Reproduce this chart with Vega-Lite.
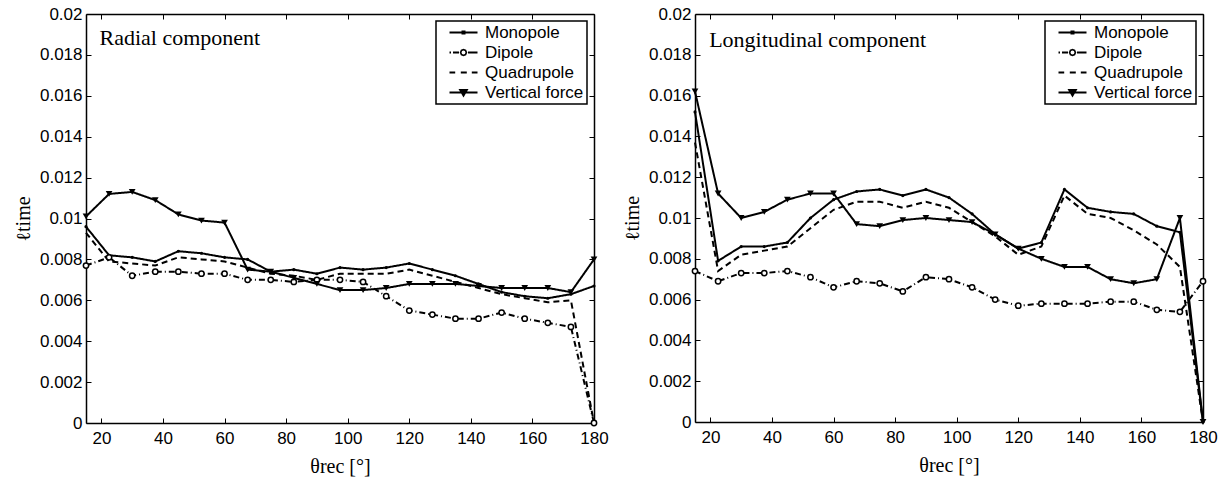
{
"$schema": "https://vega.github.io/schema/vega-lite/v6.json",
"background": "white",
"padding": {"left": 13, "top": 5, "right": 5, "bottom": 5},
"spacing": 101,
"bounds": "flush",
"resolve": {"scale": {"shape": "independent", "strokeDash": "independent"}, "legend": {"shape": "independent", "strokeDash": "independent"}},
"config": {
  "view": {"stroke": null},
  "font": "Liberation Sans",
  "axis": {"domainColor": "black", "domainWidth": 1.5, "tickColor": "black", "tickWidth": 1, "tickSize": -5, "labelFont": "Liberation Sans", "labelFontSize": 17, "labelColor": "black", "grid": false, "titleFont": "Liberation Serif", "titleFontSize": 20, "titleFontWeight": "normal", "titleColor": "black", "labelFlush": false, "labelBound": false, "labelOverlap": false},
  "legend": {"orient": "top-right", "offset": 7, "padding": 3, "strokeColor": "black", "strokeWidth": 1.5, "fillColor": "white", "cornerRadius": 0, "labelFont": "Liberation Sans", "labelFontSize": 17, "labelColor": "black", "rowPadding": 2, "symbolOffset": 7, "labelOffset": 22, "symbolStrokeWidth": 0, "symbolOpacity": 1, "symbolSize": 100}
},
"hconcat": [
{
  "width": 508, "height": 409,
  "data": {"values": [
    {"s":"Monopole","t":15,"v":0.0096},{"s":"Monopole","t":22.5,"v":0.0082},{"s":"Monopole","t":30,"v":0.0081},{"s":"Monopole","t":37.5,"v":0.0079},{"s":"Monopole","t":45,"v":0.0084},{"s":"Monopole","t":52.5,"v":0.0083},{"s":"Monopole","t":60,"v":0.0081},{"s":"Monopole","t":67.5,"v":0.0080},{"s":"Monopole","t":75,"v":0.0074},{"s":"Monopole","t":82.5,"v":0.0075},{"s":"Monopole","t":90,"v":0.0073},{"s":"Monopole","t":97.5,"v":0.0076},{"s":"Monopole","t":105,"v":0.0075},{"s":"Monopole","t":112.5,"v":0.0076},{"s":"Monopole","t":120,"v":0.0078},{"s":"Monopole","t":127.5,"v":0.0075},{"s":"Monopole","t":135,"v":0.0072},{"s":"Monopole","t":142.5,"v":0.0068},{"s":"Monopole","t":150,"v":0.0064},{"s":"Monopole","t":157.5,"v":0.0062},{"s":"Monopole","t":165,"v":0.0061},{"s":"Monopole","t":172.5,"v":0.0063},{"s":"Monopole","t":180,"v":0.0067},
    {"s":"Dipole","t":15,"v":0.0077},{"s":"Dipole","t":22.5,"v":0.0081},{"s":"Dipole","t":30,"v":0.0072},{"s":"Dipole","t":37.5,"v":0.0074},{"s":"Dipole","t":45,"v":0.0074},{"s":"Dipole","t":52.5,"v":0.0073},{"s":"Dipole","t":60,"v":0.0073},{"s":"Dipole","t":67.5,"v":0.0070},{"s":"Dipole","t":75,"v":0.0070},{"s":"Dipole","t":82.5,"v":0.0069},{"s":"Dipole","t":90,"v":0.0070},{"s":"Dipole","t":97.5,"v":0.0070},{"s":"Dipole","t":105,"v":0.0069},{"s":"Dipole","t":112.5,"v":0.0062},{"s":"Dipole","t":120,"v":0.0055},{"s":"Dipole","t":127.5,"v":0.0053},{"s":"Dipole","t":135,"v":0.0051},{"s":"Dipole","t":142.5,"v":0.0051},{"s":"Dipole","t":150,"v":0.0054},{"s":"Dipole","t":157.5,"v":0.0051},{"s":"Dipole","t":165,"v":0.0049},{"s":"Dipole","t":172.5,"v":0.0047},{"s":"Dipole","t":180,"v":0},
    {"s":"Quadrupole","t":15,"v":0.0093},{"s":"Quadrupole","t":22.5,"v":0.0079},{"s":"Quadrupole","t":30,"v":0.0078},{"s":"Quadrupole","t":37.5,"v":0.0077},{"s":"Quadrupole","t":45,"v":0.0081},{"s":"Quadrupole","t":52.5,"v":0.0080},{"s":"Quadrupole","t":60,"v":0.0079},{"s":"Quadrupole","t":67.5,"v":0.0076},{"s":"Quadrupole","t":75,"v":0.0073},{"s":"Quadrupole","t":82.5,"v":0.0072},{"s":"Quadrupole","t":90,"v":0.0070},{"s":"Quadrupole","t":97.5,"v":0.0073},{"s":"Quadrupole","t":105,"v":0.0073},{"s":"Quadrupole","t":112.5,"v":0.0073},{"s":"Quadrupole","t":120,"v":0.0075},{"s":"Quadrupole","t":127.5,"v":0.0072},{"s":"Quadrupole","t":135,"v":0.0069},{"s":"Quadrupole","t":142.5,"v":0.0066},{"s":"Quadrupole","t":150,"v":0.0063},{"s":"Quadrupole","t":157.5,"v":0.0061},{"s":"Quadrupole","t":165,"v":0.0059},{"s":"Quadrupole","t":172.5,"v":0.0060},{"s":"Quadrupole","t":180,"v":0},
    {"s":"Vertical force","t":15,"v":0.0101},{"s":"Vertical force","t":22.5,"v":0.0112},{"s":"Vertical force","t":30,"v":0.0113},{"s":"Vertical force","t":37.5,"v":0.0109},{"s":"Vertical force","t":45,"v":0.0102},{"s":"Vertical force","t":52.5,"v":0.0099},{"s":"Vertical force","t":60,"v":0.0098},{"s":"Vertical force","t":67.5,"v":0.0075},{"s":"Vertical force","t":75,"v":0.0074},{"s":"Vertical force","t":82.5,"v":0.0071},{"s":"Vertical force","t":90,"v":0.0068},{"s":"Vertical force","t":97.5,"v":0.0065},{"s":"Vertical force","t":105,"v":0.0065},{"s":"Vertical force","t":112.5,"v":0.0066},{"s":"Vertical force","t":120,"v":0.0068},{"s":"Vertical force","t":127.5,"v":0.0068},{"s":"Vertical force","t":135,"v":0.0068},{"s":"Vertical force","t":142.5,"v":0.0067},{"s":"Vertical force","t":150,"v":0.0066},{"s":"Vertical force","t":157.5,"v":0.0066},{"s":"Vertical force","t":165,"v":0.0066},{"s":"Vertical force","t":172.5,"v":0.0064},{"s":"Vertical force","t":180,"v":0.0080}
  ]},
  "layer": [
    {"mark": {"type": "line", "stroke": "black", "strokeWidth": 2},
     "encoding": {
       "x": {"field": "t", "type": "quantitative", "scale": {"domain": [15, 180], "nice": false, "zero": false}, "axis": {"orient": "bottom", "values": [20,40,60,80,100,120,140,160,180], "title": "θrec [°]", "labelPadding": 12, "titlePadding": 10}},
       "y": {"field": "v", "type": "quantitative", "scale": {"domain": [0, 0.02], "nice": false}, "axis": {"orient": "left", "values": [0,0.002,0.004,0.006,0.008,0.01,0.012,0.014,0.016,0.018,0.02], "format": "~g", "title": "ℓtime", "labelPadding": 9, "titlePadding": 6}},
       "strokeDash": {"field": "s", "type": "nominal", "scale": {"domain": ["Vertical force","Quadrupole","Dipole","Monopole"], "range": [[1,0],[6,4],[6,3,1,3],[1,0]]}, "legend": null}
     }},
    {"transform": [{"filter": "datum.s == 'Monopole'"}],
     "mark": {"type": "point", "shape": "circle", "filled": true, "fill": "black", "size": 10, "opacity": 1},
     "encoding": {"x": {"field": "t", "type": "quantitative", "axis": null}, "y": {"field": "v", "type": "quantitative", "axis": null}}},
    {"transform": [{"filter": "datum.s == 'Dipole'"}],
     "mark": {"type": "point", "shape": "circle", "filled": true, "fill": "white", "stroke": "black", "strokeWidth": 1.5, "size": 28, "opacity": 1},
     "encoding": {"x": {"field": "t", "type": "quantitative", "axis": null}, "y": {"field": "v", "type": "quantitative", "axis": null}}},
    {"transform": [{"filter": "datum.s == 'Vertical force'"}],
     "mark": {"type": "point", "shape": "triangle-down", "filled": true, "fill": "black", "size": 45, "opacity": 1},
     "encoding": {"x": {"field": "t", "type": "quantitative", "axis": null}, "y": {"field": "v", "type": "quantitative", "axis": null}}},
    {"data": {"values": [{}]},
     "mark": {"type": "text", "font": "Liberation Serif", "fontSize": 22, "align": "left", "baseline": "alphabetic", "color": "black"},
     "encoding": {
       "x": {"datum": 19.4, "type": "quantitative", "axis": {"orient": "top", "labels": false, "values": [20,40,60,80,100,120,140,160,180], "title": null}},
       "y": {"datum": 0.0185, "type": "quantitative", "axis": {"orient": "right", "labels": false, "values": [0,0.002,0.004,0.006,0.008,0.01,0.012,0.014,0.016,0.018,0.02], "title": null}},
       "text": {"value": "Radial component"}
     }},
    {"data": {"values": [{"s":"Monopole","t":150,"v":0.0175},{"s":"Dipole","t":150,"v":0.0175},{"s":"Quadrupole","t":150,"v":0.0175},{"s":"Vertical force","t":150,"v":0.0175}]},
     "mark": {"type": "point", "filled": true, "fill": "black", "strokeWidth": 0, "size": 100, "opacity": 1},
     "encoding": {
       "x": {"field": "t", "type": "quantitative", "axis": null}, "y": {"field": "v", "type": "quantitative", "axis": null},
       "shape": {"field": "s", "type": "nominal", "scale": {"domain": ["Monopole","Dipole","Quadrupole","Vertical force"], "range": ["M-1,-0.2H4.6V0.2H-1ZM1.4,-0.4H2.2V0.4H1.4Z", "M-1,-0.2H-0.7V0.2H-1ZM-0.3,-0.2H0.9V0.2H-0.3ZM2.7,-0.2H4.6V0.2H2.7ZM2.55,0L2.33,0.53L1.8,0.75L1.27,0.53L1.05,0L1.27,-0.53L1.8,-0.75L2.33,-0.53ZM2.2,0L2.08,-0.28L1.8,-0.4L1.52,-0.28L1.4,0L1.52,0.28L1.8,0.4L2.08,0.28Z", "M-1,-0.2H0.14V0.2H-1ZM1.26,-0.2H2.46V0.2H1.26ZM3.46,-0.2H4.6V0.2H3.46Z", "M-1,-0.2H4.6V0.2H-1ZM0.8,-0.7H2.8L1.8,1Z"]}, "legend": {"title": null, "symbolOpacity": 1}}
     }}
  ],
  "resolve": {"axis": {"x": "independent", "y": "independent"}}
},
{
  "width": 508, "height": 408,
  "data": {"values": [
    {"s":"Monopole","t":15,"v":0.0152},{"s":"Monopole","t":22.5,"v":0.0079},{"s":"Monopole","t":30,"v":0.0086},{"s":"Monopole","t":37.5,"v":0.0086},{"s":"Monopole","t":45,"v":0.0088},{"s":"Monopole","t":52.5,"v":0.0100},{"s":"Monopole","t":60,"v":0.0109},{"s":"Monopole","t":67.5,"v":0.0113},{"s":"Monopole","t":75,"v":0.0114},{"s":"Monopole","t":82.5,"v":0.0111},{"s":"Monopole","t":90,"v":0.0114},{"s":"Monopole","t":97.5,"v":0.0110},{"s":"Monopole","t":105,"v":0.0102},{"s":"Monopole","t":112.5,"v":0.0092},{"s":"Monopole","t":120,"v":0.0085},{"s":"Monopole","t":127.5,"v":0.0088},{"s":"Monopole","t":135,"v":0.0114},{"s":"Monopole","t":142.5,"v":0.0105},{"s":"Monopole","t":150,"v":0.0103},{"s":"Monopole","t":157.5,"v":0.0102},{"s":"Monopole","t":165,"v":0.0096},{"s":"Monopole","t":172.5,"v":0.0093},{"s":"Monopole","t":180,"v":0},
    {"s":"Dipole","t":15,"v":0.0074},{"s":"Dipole","t":22.5,"v":0.0069},{"s":"Dipole","t":30,"v":0.0073},{"s":"Dipole","t":37.5,"v":0.0073},{"s":"Dipole","t":45,"v":0.0074},{"s":"Dipole","t":52.5,"v":0.0071},{"s":"Dipole","t":60,"v":0.0066},{"s":"Dipole","t":67.5,"v":0.0069},{"s":"Dipole","t":75,"v":0.0068},{"s":"Dipole","t":82.5,"v":0.0064},{"s":"Dipole","t":90,"v":0.0071},{"s":"Dipole","t":97.5,"v":0.0070},{"s":"Dipole","t":105,"v":0.0066},{"s":"Dipole","t":112.5,"v":0.0060},{"s":"Dipole","t":120,"v":0.0057},{"s":"Dipole","t":127.5,"v":0.0058},{"s":"Dipole","t":135,"v":0.0058},{"s":"Dipole","t":142.5,"v":0.0058},{"s":"Dipole","t":150,"v":0.0059},{"s":"Dipole","t":157.5,"v":0.0059},{"s":"Dipole","t":165,"v":0.0055},{"s":"Dipole","t":172.5,"v":0.0054},{"s":"Dipole","t":180,"v":0.0069},
    {"s":"Quadrupole","t":15,"v":0.0137},{"s":"Quadrupole","t":22.5,"v":0.0074},{"s":"Quadrupole","t":30,"v":0.0082},{"s":"Quadrupole","t":37.5,"v":0.0084},{"s":"Quadrupole","t":45,"v":0.0086},{"s":"Quadrupole","t":52.5,"v":0.0095},{"s":"Quadrupole","t":60,"v":0.0104},{"s":"Quadrupole","t":67.5,"v":0.0108},{"s":"Quadrupole","t":75,"v":0.0108},{"s":"Quadrupole","t":82.5,"v":0.0105},{"s":"Quadrupole","t":90,"v":0.0108},{"s":"Quadrupole","t":97.5,"v":0.0105},{"s":"Quadrupole","t":105,"v":0.0098},{"s":"Quadrupole","t":112.5,"v":0.0091},{"s":"Quadrupole","t":120,"v":0.0082},{"s":"Quadrupole","t":127.5,"v":0.0086},{"s":"Quadrupole","t":135,"v":0.0111},{"s":"Quadrupole","t":142.5,"v":0.0102},{"s":"Quadrupole","t":150,"v":0.0100},{"s":"Quadrupole","t":157.5,"v":0.0094},{"s":"Quadrupole","t":165,"v":0.0087},{"s":"Quadrupole","t":172.5,"v":0.0076},{"s":"Quadrupole","t":180,"v":0},
    {"s":"Vertical force","t":15,"v":0.0162},{"s":"Vertical force","t":22.5,"v":0.0112},{"s":"Vertical force","t":30,"v":0.0100},{"s":"Vertical force","t":37.5,"v":0.0103},{"s":"Vertical force","t":45,"v":0.0109},{"s":"Vertical force","t":52.5,"v":0.0112},{"s":"Vertical force","t":60,"v":0.0112},{"s":"Vertical force","t":67.5,"v":0.0097},{"s":"Vertical force","t":75,"v":0.0096},{"s":"Vertical force","t":82.5,"v":0.0099},{"s":"Vertical force","t":90,"v":0.0100},{"s":"Vertical force","t":97.5,"v":0.0099},{"s":"Vertical force","t":105,"v":0.0098},{"s":"Vertical force","t":112.5,"v":0.0092},{"s":"Vertical force","t":120,"v":0.0085},{"s":"Vertical force","t":127.5,"v":0.0080},{"s":"Vertical force","t":135,"v":0.0076},{"s":"Vertical force","t":142.5,"v":0.0076},{"s":"Vertical force","t":150,"v":0.0070},{"s":"Vertical force","t":157.5,"v":0.0068},{"s":"Vertical force","t":165,"v":0.0070},{"s":"Vertical force","t":172.5,"v":0.0100},{"s":"Vertical force","t":180,"v":0}
  ]},
  "layer": [
    {"mark": {"type": "line", "stroke": "black", "strokeWidth": 2},
     "encoding": {
       "x": {"field": "t", "type": "quantitative", "scale": {"domain": [15, 180], "nice": false, "zero": false}, "axis": {"orient": "bottom", "values": [20,40,60,80,100,120,140,160,180], "title": "θrec [°]", "labelPadding": 12, "titlePadding": 10}},
       "y": {"field": "v", "type": "quantitative", "scale": {"domain": [0, 0.02], "nice": false}, "axis": {"orient": "left", "values": [0,0.002,0.004,0.006,0.008,0.01,0.012,0.014,0.016,0.018,0.02], "format": "~g", "title": "ℓtime", "labelPadding": 9, "titlePadding": 6}},
       "strokeDash": {"field": "s", "type": "nominal", "scale": {"domain": ["Vertical force","Quadrupole","Dipole","Monopole"], "range": [[1,0],[6,4],[6,3,1,3],[1,0]]}, "legend": null}
     }},
    {"transform": [{"filter": "datum.s == 'Monopole'"}],
     "mark": {"type": "point", "shape": "circle", "filled": true, "fill": "black", "size": 10, "opacity": 1},
     "encoding": {"x": {"field": "t", "type": "quantitative", "axis": null}, "y": {"field": "v", "type": "quantitative", "axis": null}}},
    {"transform": [{"filter": "datum.s == 'Dipole'"}],
     "mark": {"type": "point", "shape": "circle", "filled": true, "fill": "white", "stroke": "black", "strokeWidth": 1.5, "size": 28, "opacity": 1},
     "encoding": {"x": {"field": "t", "type": "quantitative", "axis": null}, "y": {"field": "v", "type": "quantitative", "axis": null}}},
    {"transform": [{"filter": "datum.s == 'Vertical force'"}],
     "mark": {"type": "point", "shape": "triangle-down", "filled": true, "fill": "black", "size": 45, "opacity": 1},
     "encoding": {"x": {"field": "t", "type": "quantitative", "axis": null}, "y": {"field": "v", "type": "quantitative", "axis": null}}},
    {"data": {"values": [{}]},
     "mark": {"type": "text", "font": "Liberation Serif", "fontSize": 22, "align": "left", "baseline": "alphabetic", "color": "black"},
     "encoding": {
       "x": {"datum": 19.6, "type": "quantitative", "axis": {"orient": "top", "labels": false, "values": [20,40,60,80,100,120,140,160,180], "title": null}},
       "y": {"datum": 0.0184, "type": "quantitative", "axis": {"orient": "right", "labels": false, "values": [0,0.002,0.004,0.006,0.008,0.01,0.012,0.014,0.016,0.018,0.02], "title": null}},
       "text": {"value": "Longitudinal component"}
     }},
    {"data": {"values": [{"s":"Monopole","t":150,"v":0.0175},{"s":"Dipole","t":150,"v":0.0175},{"s":"Quadrupole","t":150,"v":0.0175},{"s":"Vertical force","t":150,"v":0.0175}]},
     "mark": {"type": "point", "filled": true, "fill": "black", "strokeWidth": 0, "size": 100, "opacity": 1},
     "encoding": {
       "x": {"field": "t", "type": "quantitative", "axis": null}, "y": {"field": "v", "type": "quantitative", "axis": null},
       "shape": {"field": "s", "type": "nominal", "scale": {"domain": ["Monopole","Dipole","Quadrupole","Vertical force"], "range": ["M-1,-0.2H4.6V0.2H-1ZM1.4,-0.4H2.2V0.4H1.4Z", "M-1,-0.2H-0.7V0.2H-1ZM-0.3,-0.2H0.9V0.2H-0.3ZM2.7,-0.2H4.6V0.2H2.7ZM2.55,0L2.33,0.53L1.8,0.75L1.27,0.53L1.05,0L1.27,-0.53L1.8,-0.75L2.33,-0.53ZM2.2,0L2.08,-0.28L1.8,-0.4L1.52,-0.28L1.4,0L1.52,0.28L1.8,0.4L2.08,0.28Z", "M-1,-0.2H0.14V0.2H-1ZM1.26,-0.2H2.46V0.2H1.26ZM3.46,-0.2H4.6V0.2H3.46Z", "M-1,-0.2H4.6V0.2H-1ZM0.8,-0.7H2.8L1.8,1Z"]}, "legend": {"title": null, "symbolOpacity": 1}}
     }}
  ],
  "resolve": {"axis": {"x": "independent", "y": "independent"}}
}
]
}
